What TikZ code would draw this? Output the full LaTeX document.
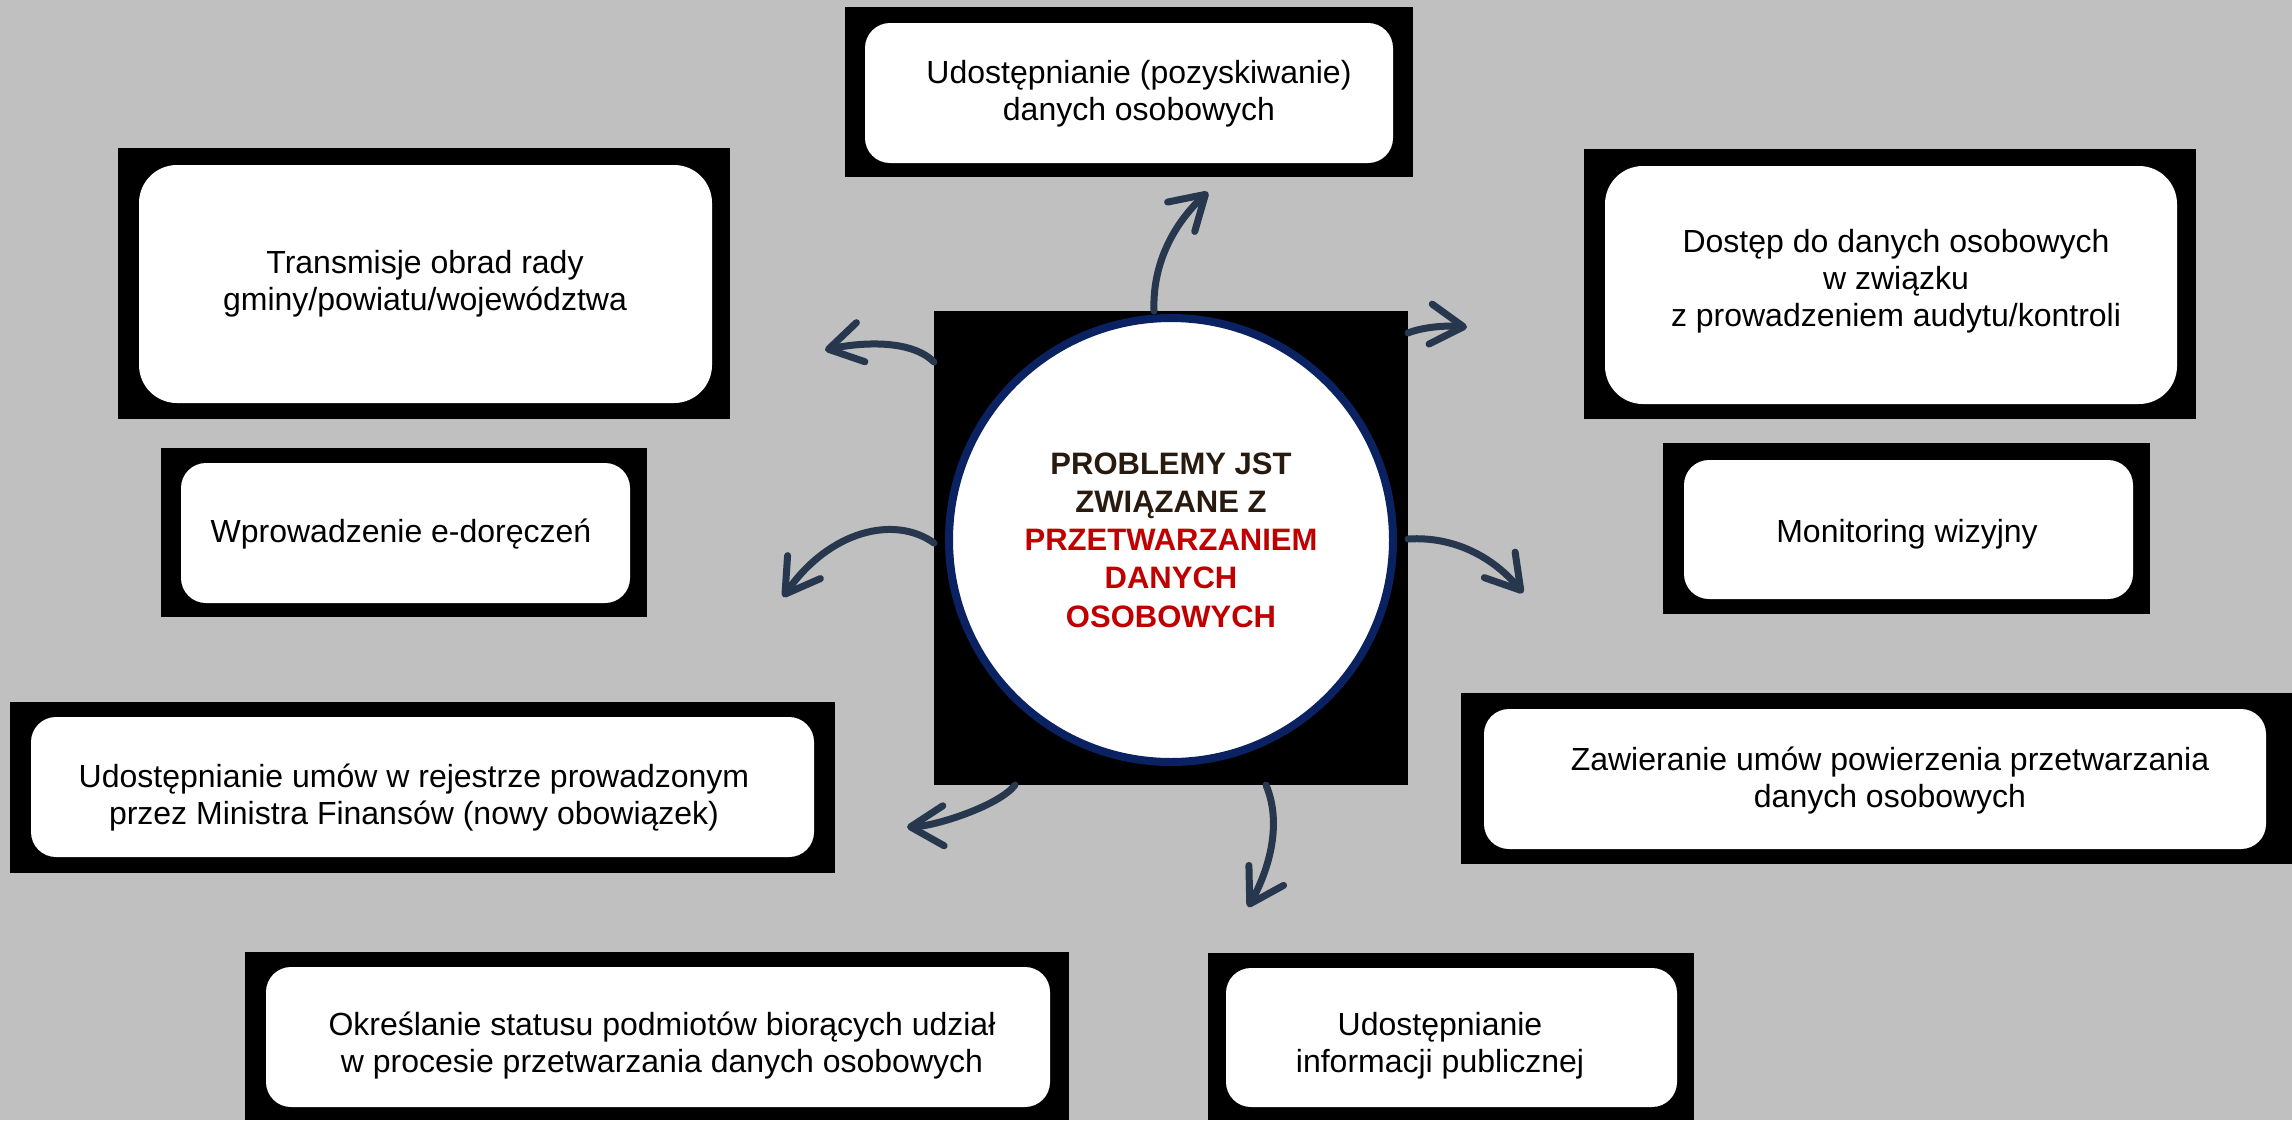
\documentclass[tikz,border=0pt]{standalone}
\usepackage{fontspec}
\setmainfont{Liberation Sans}
\usetikzlibrary{arrows.meta}
\definecolor{bg}{RGB}{192,192,192}
\definecolor{arrowc}{RGB}{38,55,78}
\definecolor{navy}{RGB}{10,34,98}
\definecolor{darkbrown}{RGB}{40,26,14}
\definecolor{hubred}{RGB}{192,0,0}
\begin{document}
\begin{tikzpicture}[x=1pt,y=-1pt,
  frame/.style={fill=black, inner sep=0pt, outer sep=0pt},
  card/.style={fill=white, inner sep=0pt, outer sep=0pt, rounded corners=25pt},
  bigcard/.style={card, rounded corners=38pt},
  lbl/.style={font=\fontsize{32}{37}\selectfont, align=center, inner sep=0pt, text=black},
  conn/.style={draw=arrowc, line width=7pt, line cap=round,
    -{Straight Barb[length=33pt,width=40pt,round]}},
]
\useasboundingbox (0,0) rectangle (2292,1120);
\fill[bg] (0,0) rectangle (2292,1120);

% boxes: black frames and white cards
\node[frame, minimum width=568pt, minimum height=170pt] (f1) at (1129,92) {};
\node[card, minimum width=528pt, minimum height=140pt] (c1) at (1129,93) {};
\node[frame, minimum width=612pt, minimum height=271pt] (f2) at (424,283.5) {};
\node[bigcard, minimum width=573pt, minimum height=238pt] (c2) at (425.5,284) {};
\node[frame, minimum width=612pt, minimum height=270pt] (f3) at (1890,284) {};
\node[bigcard, minimum width=572pt, minimum height=238pt] (c3) at (1891,285) {};
\node[frame, minimum width=486pt, minimum height=169pt] (f4) at (404,532.5) {};
\node[card, minimum width=449pt, minimum height=140pt] (c4) at (405.5,533) {};
\node[frame, minimum width=487pt, minimum height=171pt] (f5) at (1906.5,528.5) {};
\node[card, minimum width=449pt, minimum height=139pt] (c5) at (1908.5,529.5) {};
\node[frame, minimum width=825pt, minimum height=171pt] (f6) at (422.5,787.5) {};
\node[card, minimum width=783pt, minimum height=140pt] (c6) at (422.5,787) {};
\node[frame, minimum width=831pt, minimum height=171pt] (f7) at (1876.5,778.5) {};
\node[card, minimum width=782pt, minimum height=140pt] (c7) at (1875,779) {};
\node[frame, minimum width=824pt, minimum height=168pt] (f8) at (657,1036) {};
\node[card, minimum width=784pt, minimum height=140pt] (c8) at (658,1037) {};
\node[frame, minimum width=486pt, minimum height=167pt] (f9) at (1451,1036.5) {};
\node[card, minimum width=451pt, minimum height=139pt] (c9) at (1451.5,1037.5) {};

% texts
\node[lbl] (t1) at (1139,93.5) {Udostępnianie (pozyskiwanie)\\danych osobowych};
\node[lbl] (t2) at (425,283.5) {Transmisje obrad rady\\gminy/powiatu/województwa};
\node[lbl] (t3) at (1896,281) {Dostęp do danych osobowych\\w związku\\z prowadzeniem audytu/kontroli};
\node[lbl] (t4) at (401,534) {Wprowadzenie e-doręczeń};
\node[lbl] (t5) at (1907,534) {Monitoring wizyjny};
\node[lbl] (t6) at (414,797.5) {Udostępnianie umów w rejestrze prowadzonym\\przez Ministra Finansów (nowy obowiązek)};
\node[lbl] (t7) at (1890,780.5) {Zawieranie umów powierzenia przetwarzania\\danych osobowych};
\node[lbl] (t8) at (662,1045.5) {Określanie statusu podmiotów biorących udział\\w procesie przetwarzania danych osobowych};
\node[lbl] (t9) at (1440,1045.5) {Udostępnianie\\informacji publicznej};

% hub
\node[frame, minimum width=474pt, minimum height=474pt] (hub) at (1171,548) {};
\node[circle, draw=navy, line width=8pt, fill=white, minimum size=444pt, inner sep=0pt,
  align=center, font=\fontsize{31}{38.3}\selectfont\bfseries] (core) at (1171,540)
  {\textcolor{darkbrown}{PROBLEMY JST}\\\textcolor{darkbrown}{ZWIĄZANE Z}\\
   \textcolor{hubred}{PRZETWARZANIEM}\\\textcolor{hubred}{DANYCH}\\\textcolor{hubred}{OSOBOWYCH}};

% arrow ends
\coordinate (a1) at (1208,192);
\coordinate (a2) at (1467,327);
\coordinate (a3) at (1523,593);
\coordinate (a4) at (1248,907);
\coordinate (a5) at (907,827);
\coordinate (a6) at (783,597);
\coordinate (a7) at (825,350);

\draw[conn] ([xshift=-17pt]hub.north) .. controls (1152,255) and (1182,216) .. (a1);
\draw[conn] ([yshift=215pt]hub.east) .. controls (1420,328) and (1442,325) .. (a2);
\draw[conn] ([yshift=9pt]hub.east) .. controls (1455,536) and (1494,558) .. (a3);
\draw[conn] ([xshift=95pt]hub.south) .. controls (1285,830) and (1263,881) .. (a4);
\draw[conn] ([xshift=-156pt]hub.south) .. controls (1000,805) and (937,826) .. (a5);
\draw[conn] ([yshift=5pt]hub.west) .. controls (895,515) and (830,530) .. (a6);
\draw[conn] ([yshift=186pt]hub.west) .. controls (910,338) and (857,343) .. (a7);
\end{tikzpicture}
\end{document}
